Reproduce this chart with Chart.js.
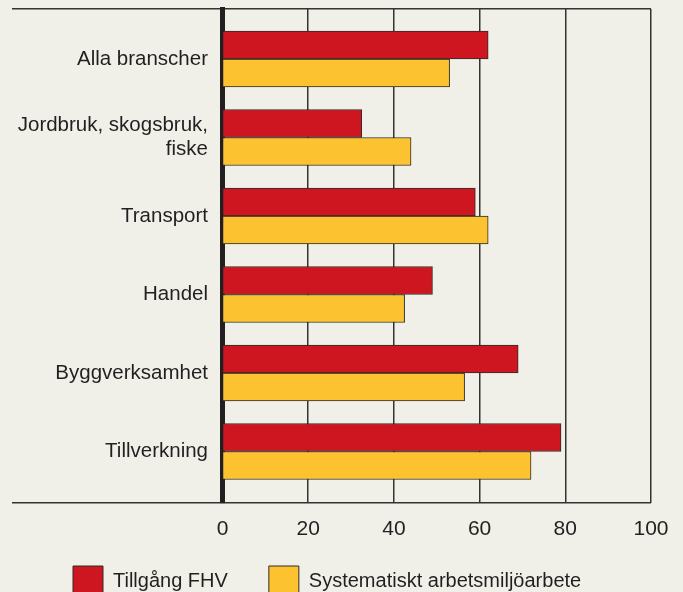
<!DOCTYPE html>
<html>
<head>
<meta charset="utf-8">
<script src="https://cdn.jsdelivr.net/npm/chart.js@4"></script>
<style>
  html, body { margin: 0; padding: 0; background: #f1f0e8; overflow: hidden; }
  #wrap { position: relative; width: 683px; height: 606px; }
</style>
</head>
<body>
<div id="wrap"><canvas id="c"></canvas></div>
<script>
// ---- data ----
const categories = ['Alla branscher', ['Jordbruk, skogsbruk,', 'fiske'], 'Transport', 'Handel', 'Byggverksamhet', 'Tillverkning'];
const seriesNames = ['Tillgång FHV', 'Systematiskt arbetsmiljöarbete'];
const tillgangFHV = [62, 32.5, 59, 49, 69, 79];
const systematiskt = [53, 44, 62, 42.5, 56.5, 72];
const xTicks = [0, 20, 40, 60, 80, 100];

// ---- style ----
const TEXT = '#231f20';
const LINE = '#333333';
const FONT = "'Liberation Sans', Arial, sans-serif";
const CAT_SIZE = 20.5;
const yMin = -0.637, yMax = 5.656;
const isEdge = v => v === yMin || v === yMax;
const tickIsEdge = ctx => !!(ctx && ctx.tick && isEdge(ctx.tick.value));

// widest category label (for right-aligned, unclipped label placement)
const mctx = document.createElement('canvas').getContext('2d');
mctx.font = CAT_SIZE + 'px ' + FONT;
const widest = Math.max(...categories.flat().map(t => mctx.measureText(t).width));
const Y_AXIS_W = 190.5;          // chart area starts at 32 + 190.5
const LABEL_GAP = 14.5;          // distance from zero line to label right edge

const toPoints = arr => arr.map((v, i) => ({ x: v, y: i }));

new Chart(document.getElementById('c'), {
  type: 'bar',
  data: {
    datasets: [
      { label: seriesNames[0], data: toPoints(tillgangFHV), backgroundColor: '#cd161f', borderColor: '#2b2b2b', borderWidth: 1, barThickness: 28 },
      { label: seriesNames[1], data: toPoints(systematiskt), backgroundColor: '#fdc22f', borderColor: '#2b2b2b', borderWidth: 1, barThickness: 28 }
    ]
  },
  options: {
    indexAxis: 'y',
    responsive: true,
    maintainAspectRatio: false,
    animation: false,
    layout: { padding: { top: 9, right: 32, left: 32, bottom: 0 } },
    plugins: {
      tooltip: { enabled: false },
      legend: {
        position: 'bottom',
        align: 'start',
        labels: {
          boxWidth: 30, boxHeight: 30, padding: 41,
          color: TEXT,
          font: { family: FONT, size: 20 }
        }
      }
    },
    scales: {
      x: {
        type: 'linear',
        min: 0, max: 100,
        afterBuildTicks: s => { s.ticks = xTicks.map(v => ({ value: v })); },
        afterFit: s => { s.height = 22; },
        border: { display: false },
        grid: { color: LINE, lineWidth: 1.5, drawTicks: false },
        ticks: { color: TEXT, mirror: true, padding: -39, font: { family: FONT, size: 21 } }
      },
      y: {
        type: 'linear',
        reverse: true,
        offset: false,
        min: yMin, max: yMax,
        z: 1,
        afterBuildTicks: s => {
          s.ticks = [yMin, ...categories.map((_, i) => i), yMax].map(v => ({ value: v }));
        },
        afterFit: s => { s.width = Y_AXIS_W; },
        border: { display: true, color: TEXT, width: 5 },
        grid: {
          offset: false,
          color: ctx => tickIsEdge(ctx) ? LINE : 'rgba(0,0,0,0)',
          lineWidth: 1.5,
          drawTicks: true,
          tickLength: 210.5
        },
        ticks: {
          mirror: true,
          crossAlign: 'far',
          padding: -LABEL_GAP - widest,
          color: TEXT,
          font: ctx => ({ family: FONT, size: tickIsEdge(ctx) ? 1 : CAT_SIZE, lineHeight: 1.15 }),
          callback: v => Number.isInteger(v) && categories[v] !== undefined ? categories[v] : ''
        }
      }
    }
  }
});
</script>
</body>
</html>
